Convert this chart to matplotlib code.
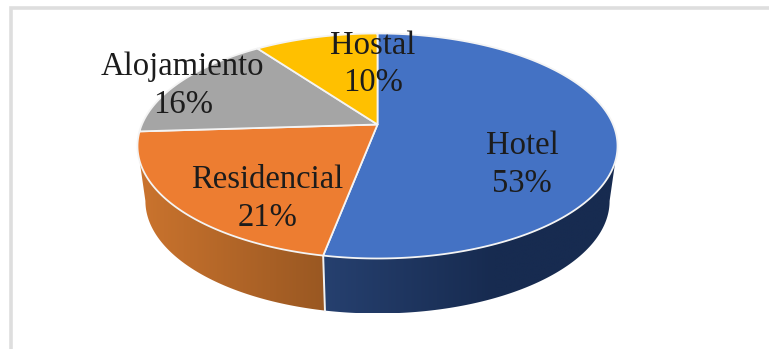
import numpy as np
import matplotlib
matplotlib.use('Agg')
import matplotlib.pyplot as plt
from matplotlib.patches import Polygon
from matplotlib.colors import to_rgb

# Datos del gráfico
categorias = ['Hotel', 'Residencial', 'Alojamiento', 'Hostal']
porcentajes = [53, 21, 16, 10]
colores = ['#4472C4', '#ED7D31', '#A5A5A5', '#FFC000']

# Degradado de la pared lateral: (lado derecho, lado izquierdo) de cada sector
pared = {0: ('#172B50', '#26406F'), 1: ('#9A5822', '#CB742E')}

# Posición de las etiquetas en píxeles
pos_nombre = [(522, 146), (267, 180), (182, 67), (373, 46)]
pos_valor = [(522, 184), (268, 218), (183, 105), (373, 83)]

# Proyección en perspectiva del disco
cx, cy = 377.5, 124.5
k = 0.191
a = 235.6
b = 108.4
alto = 55
escala_base = 0.967


def rim(theta, base=False):
    x = np.sin(theta)
    y = np.cos(theta)
    w = 1 + k * y
    sx = a * x / w
    sy = -b * y / w
    if base:
        return cx + sx * escala_base, cy + sy + alto
    return cx + sx, cy + sy


fig = plt.figure(figsize=(7.69, 3.49), dpi=100)
ax = fig.add_axes([0, 0, 1, 1])
ax.set_xlim(0, 769)
ax.set_ylim(349, 0)
ax.axis('off')

# Marco gris (izquierda y arriba)
ax.plot([11, 11, 769], [349, 7.5, 7.5], color='#DEDEDE', lw=2.6, solid_joinstyle='miter')

acum = np.cumsum([0] + porcentajes) / 100 * 2 * np.pi
lim_der = np.arccos(-k)
lim_izq = 2 * np.pi - lim_der
costura = rim(acum[1])[0]

# Paredes laterales: degradado horizontal recortado con la forma de cada sector
for i in pared:
    malla = np.linspace(max(acum[i], lim_der), min(acum[i + 1], lim_izq), 120)
    xa, ya = rim(malla)
    xb, yb = rim(malla, base=True)
    cara = np.column_stack([np.r_[xa, xb[::-1]], np.r_[ya, yb[::-1]]])
    x0, x1 = cara[:, 0].min(), cara[:, 0].max()
    if i == 0:
        # el azul se oscurece pronto y queda casi plano hacia la derecha
        t = np.clip(1 - (np.linspace(x0, x1, 256) - costura) / 170, 0, 1)
    else:
        t = (np.linspace(x0, x1, 256) - costura) / (x0 - costura)
    c1, c2 = np.array(to_rgb(pared[i][0])), np.array(to_rgb(pared[i][1]))
    img = (c1 + (c2 - c1) * t[:, None])[None, :, :]
    im = ax.imshow(img, extent=[x0, x1, cara[:, 1].max(), cara[:, 1].min()], aspect='auto', interpolation='bilinear')
    im.set_clip_path(Polygon(cara, closed=True, transform=ax.transData))
ax.set_xlim(0, 769)
ax.set_ylim(349, 0)

# Separación blanca entre las dos paredes
xa, ya = rim(acum[1])
xb, yb = rim(acum[1], base=True)
ax.plot([xa, xb], [ya, yb], color='#F2F2F2', lw=1.4)

# Sectores de la cara superior
for i in range(len(porcentajes)):
    malla = np.linspace(acum[i], acum[i + 1], 200)
    xs, ys = rim(malla)
    puntos = np.column_stack([np.r_[cx, xs], np.r_[cy, ys]])
    ax.add_patch(Polygon(puntos, closed=True, fc=colores[i], ec='#F4F4F4', lw=1.3, joinstyle='round', zorder=3))

# Etiquetas
for i in range(len(categorias)):
    ax.text(*pos_nombre[i], categorias[i], family='Liberation Serif', fontsize=23.5,
            color='#1C1C1C', ha='center', va='center', zorder=4)
    ax.text(*pos_valor[i], f'{porcentajes[i]}%', family='Liberation Serif', fontsize=23.5,
            color='#1C1C1C', ha='center', va='center', zorder=4)

fig.savefig('out.png', dpi=100)
